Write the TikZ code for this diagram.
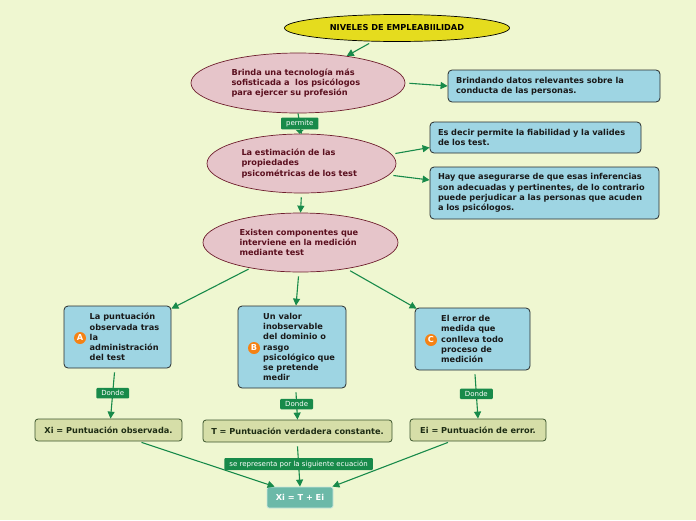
\documentclass[tikz,border=0pt]{standalone}
\usepackage{fontspec}
\setmainfont{DejaVu Sans}
\usetikzlibrary{shapes.geometric,arrows.meta,calc}
\definecolor{bgc}{RGB}{239,247,209}
\definecolor{yel}{RGB}{229,220,30}
\definecolor{pinkf}{RGB}{230,197,202}
\definecolor{pinkd}{RGB}{110,30,45}
\definecolor{pinkt}{RGB}{90,15,30}
\definecolor{bluef}{RGB}{158,213,227}
\definecolor{blued}{RGB}{40,45,45}
\definecolor{olivef}{RGB}{214,222,168}
\definecolor{olived}{RGB}{60,85,45}
\definecolor{olivet}{RGB}{30,45,20}
\definecolor{grn}{RGB}{24,138,74}
\definecolor{orng}{RGB}{245,130,20}
\definecolor{tealf}{RGB}{108,185,168}
\definecolor{teald}{RGB}{205,232,222}
\begin{document}
\begin{tikzpicture}[x=1pt,y=-1pt,
  txt/.style={font=\fontsize{8.2}{10.2}\selectfont\bfseries},
  yellowell/.style={ellipse,draw=black,line width=0.7pt,fill=yel,inner sep=0pt,txt,text=black},
  pinkell/.style={ellipse,draw=pinkd,line width=0.7pt,fill=pinkf,inner sep=0pt,txt,text=pinkt,align=left},
  bluebox/.style={rectangle,rounded corners=4pt,draw=blued,line width=0.8pt,fill=bluef,txt,text=black!90,align=left,inner xsep=8pt,inner ysep=5pt},
  blueplain/.style={rectangle,rounded corners=4pt,draw=blued,line width=0.8pt,fill=bluef,inner sep=0pt},
  boxtext/.style={txt,text=black!90,align=left,inner sep=0pt},
  badge/.style={circle,fill=orng,text=white,txt,inner sep=0pt,minimum size=12pt},
  olivebox/.style={rectangle,rounded corners=3pt,draw=olived,line width=0.8pt,fill=olivef,txt,text=olivet,inner sep=0pt},
  finalbox/.style={rectangle,rounded corners=2pt,draw=teald,line width=0.8pt,fill=tealf,txt,text=white,inner sep=0pt},
  conn/.style={draw=grn,line width=1.1pt,-{Triangle[length=7pt,width=7pt]}},
  lbl/.style={fill=grn,text=white,font=\fontsize{7}{8}\selectfont,inner xsep=5pt,inner ysep=2.5pt,rounded corners=1pt}
]
\useasboundingbox[fill=bgc] (0,0) rectangle (696,520);

% main nodes
\node[yellowell,minimum width=225pt,minimum height=27pt] (root) at (397,28) {NIVELES DE EMPLEABIILIDAD};
\node[pinkell,minimum width=214pt,minimum height=60pt,text width=133pt] (p1) at (298,83)
  {Brinda una tecnología más\\sofisticada a \ los psicólogos\\para ejercer su profesión};
\node[bluebox,text width=196pt,minimum height=32pt] (b1) at (554,86)
  {Brindando datos relevantes sobre la\\conducta de las personas.};
\node[pinkell,minimum width=189pt,minimum height=59pt,text width=120pt] (p2) at (301.5,163.5)
  {La estimación de las\\propiedades\\psicométricas de los test};
\node[bluebox,text width=195pt,minimum height=31pt] (b2) at (535.5,137.5)
  {Es decir permite la fiabilidad y la valides\\de los test.};
\node[bluebox,text width=213pt,minimum height=52pt] (b3) at (544.5,193)
  {Hay que asegurarse de que esas inferencias\\son adecuadas y pertinentes, de lo contrario\\puede perjudicar a las personas que acuden\\a los psicólogos.};
\node[pinkell,minimum width=195pt,minimum height=59pt,text width=122pt] (p3) at (300.5,242.5)
  {Existen componentes que\\interviene en la medición\\mediante test};

% A, B, C boxes
\node[blueplain,minimum width=107pt,minimum height=62pt] (ba) at (117.5,337) {};
\node[boxtext,anchor=west] (ta) at (89.5,337) {La puntuación\\observada tras\\la\\administración\\del test};
\node[badge] (ka) at (80,338) {A};
\node[blueplain,minimum width=108pt,minimum height=82pt] (bb) at (292,347) {};
\node[boxtext,anchor=west] (tb) at (263,347) {Un valor\\inobservable\\del dominio o\\rasgo\\psicológico que\\se pretende\\medir};
\node[badge] (kb) at (254,348) {B};
\node[blueplain,minimum width=115pt,minimum height=62pt] (bc) at (472.5,339) {};
\node[boxtext,anchor=west] (tc) at (441,339) {El error de\\medida que\\conlleva todo\\proceso de\\medición};
\node[badge] (kc) at (431,340) {C};

% olive boxes
\node[olivebox,minimum width=147pt,minimum height=22pt] (xo) at (108.5,430) {Xi = Puntuación observada.};
\node[olivebox,minimum width=189pt,minimum height=22pt] (to) at (297.5,431) {T = Puntuación verdadera constante.};
\node[olivebox,minimum width=136pt,minimum height=22pt] (eo) at (478,430) {Ei = Puntuación de error.};
\node[finalbox,minimum width=66pt,minimum height=21pt] (fin) at (300,497.5) {Xi = T + Ei};

% connectors
\draw[conn,shorten <=4pt] (root) -- (p1);
\draw[conn,shorten <=4pt] (p1.east) -- (b1.west);
\draw[draw=grn,line width=1.1pt] (p1.south) -- (p2.north) node[lbl,pos=0.5] (perm) {permite};
\fill[grn] ($(perm.south)+(-4,0)$) -- ($(perm.south)+(4,0)$) -- ($(perm.south)+(0,4)$) -- cycle;
\draw[conn] ($(p2.east)+(-1,-10)$) -- ($(b2.west)+(0,10)$);
\draw[conn] ($(p2.east)+(-3,12)$) -- ($(b3.west)+(0,-13)$);
\draw[conn,shorten <=4pt] (p2.south) -- (p3.north);
\draw[conn,shorten <=2pt] (p3) -- ($(ba.north east)+(0,3)$);
\draw[conn] ($(p3.south)+(-2,4)$) -- ($(bb.north)+(4,0)$);
\draw[conn,shorten <=4pt] (p3) -- ($(bc.north west)+(2,1)$);
\draw[conn] ($(ba.south)+(-3,4)$) -- ($(xo.north)+(2,0)$) node[lbl,pos=0.45] (da) {Donde};
\draw[conn] ($(bb.south)+(4,4)$) -- (to.north) node[lbl,pos=0.43] (db) {Donde};
\draw[conn] ($(bc.south)+(2.5,4)$) -- (eo.north) node[lbl,pos=0.44] (dc) {Donde};
\draw[conn] ($(xo.south)+(33,1)$) -- ($(fin.north west)+(8,0)$);
\draw[conn] ($(to.south)+(0,4)$) -- (fin.north) node[lbl,pos=0.44] (eq) {se representa por la siguiente ecuación};
\draw[conn] ($(eo.south)+(-30,1)$) -- ($(fin.north east)+(-1,0)$);
\end{tikzpicture}
\end{document}
